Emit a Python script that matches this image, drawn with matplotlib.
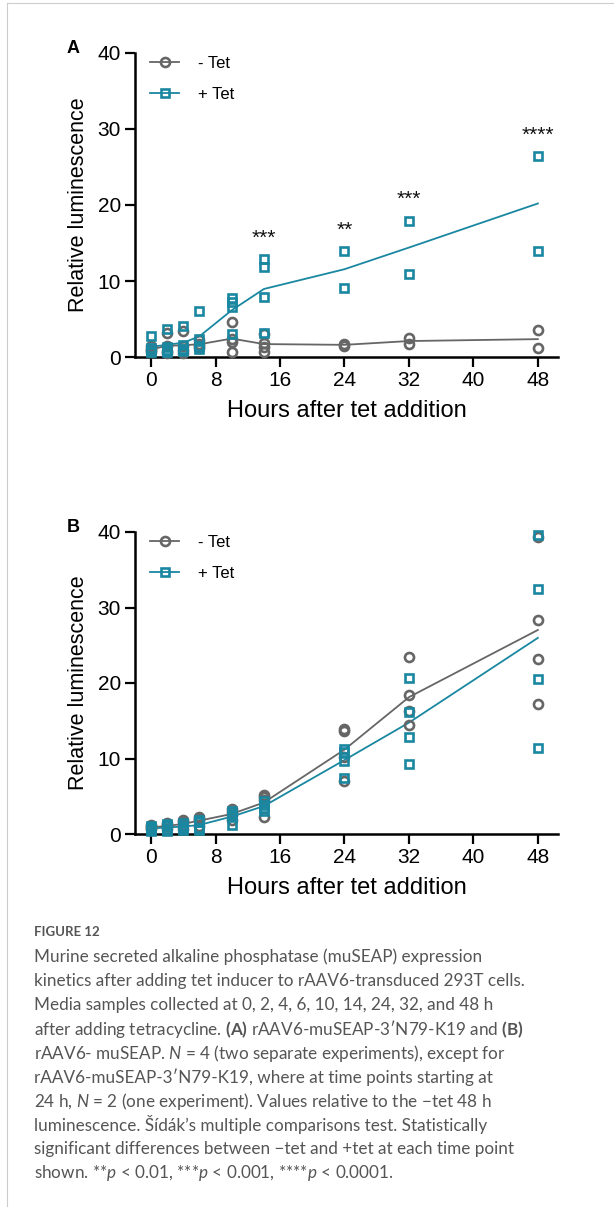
import numpy as np
import matplotlib
matplotlib.use("Agg")
import matplotlib.pyplot as plt
from matplotlib.lines import Line2D

# ---- data -------------------------------------------------------------------
hours = [0, 2, 4, 6, 10, 14, 24, 32, 48]

# Panel A: rAAV6-muSEAP-3'N79-K19
a_minus = [
    [1.4, 1.1, 0.9, 0.6],
    [3.2, 1.4, 0.8, 0.5],
    [3.4, 1.4, 0.9, 0.5],
    [2.3, 1.7, 1.5, 1.2],
    [4.6, 2.4, 2.0, 0.7],
    [3.0, 1.8, 1.3, 0.7],
    [1.7, 1.5],
    [2.5, 1.7],
    [3.5, 1.2],
]
a_plus = [
    [2.7, 1.2, 0.8, 0.6],
    [3.7, 1.3, 0.9, 0.6],
    [4.1, 1.6, 1.0, 0.8],
    [6.0, 2.4, 1.5, 1.0],
    [7.8, 7.2, 6.6, 3.0],
    [12.9, 11.8, 7.9, 3.2],
    [14.0, 9.1],
    [17.9, 10.9],
    [26.5, 13.9],
]
a_stars = {14: "***", 24: "**", 32: "***", 48: "****"}
a_star_y = {14: 15.6, 24: 16.7, 32: 20.7, 48: 29.2}

# Panel B: rAAV6-muSEAP
b_minus = [
    [1.2, 1.0, 0.8, 0.6],
    [1.4, 1.2, 1.0, 0.6],
    [1.9, 1.6, 1.2, 0.7],
    [2.3, 2.0, 1.8, 1.0],
    [3.3, 2.9, 2.5, 1.9],
    [5.1, 4.9, 4.5, 2.2],
    [13.9, 13.6, 10.2, 7.0],
    [23.4, 18.4, 16.3, 14.4],
    [39.4, 28.3, 23.2, 17.2],
]
b_plus = [
    [1.0, 0.9, 0.6, 0.4],
    [1.3, 1.1, 0.7, 0.4],
    [1.5, 1.1, 0.8, 0.5],
    [1.9, 1.6, 0.8, 0.5],
    [3.0, 2.6, 2.4, 1.2],
    [4.4, 3.9, 3.5, 3.0],
    [11.3, 10.8, 9.7, 7.4],
    [20.6, 16.2, 12.9, 9.3],
    [39.6, 32.4, 20.5, 11.4],
]

caption_lines = [
    "Murine secreted alkaline phosphatase (muSEAP) expression",
    "kinetics after adding tet inducer to rAAV6-transduced 293T cells.",
    "Media samples collected at 0, 2, 4, 6, 10, 14, 24, 32, and 48 h",
    r"after adding tetracycline. $\mathbf{(A)}$ rAAV6-muSEAP-3′N79-K19 and $\mathbf{(B)}$",
    r"rAAV6- muSEAP. $N$ = 4 (two separate experiments), except for",
    "rAAV6-muSEAP-3′N79-K19, where at time points starting at",
    r"24 h, $N$ = 2 (one experiment). Values relative to the −tet 48 h",
    "luminescence. Šídák’s multiple comparisons test. Statistically",
    "significant differences between −tet and +tet at each time point",
    r"shown. **$p$ < 0.01, ***$p$ < 0.001, ****$p$ < 0.0001.",
]

GREY = "#666666"
TEAL = "#1a87a1"
CAP_FONT = "Lato"

plt.rcParams.update({
    "font.family": ["Liberation Sans", "DejaVu Sans"],
    "mathtext.fontset": "custom",
    "mathtext.rm": CAP_FONT,
    "mathtext.it": CAP_FONT + ":italic",
    "mathtext.bf": CAP_FONT + ":bold",
})

fig = plt.figure(figsize=(6.14, 12.07), dpi=100)


def panel(rect, minus, plus, label, stars=None, star_y=None):
    ax = fig.add_axes(rect)
    for vals, col, mk in [(minus, GREY, "o"), (plus, TEAL, "s")]:
        means = [np.mean(v) for v in vals]
        ax.plot(hours, means, color=col, lw=1.3, zorder=2)
        for h, v in zip(hours, vals):
            ax.plot([h] * len(v), v, ls="none", marker=mk, ms=6.5 if mk == "o" else 6.3,
                    mfc="none", mec=col, mew=1.9, clip_on=False, zorder=3)
    if stars:
        for h, s in stars.items():
            ax.text(h, star_y[h], s, ha="center", va="center", fontsize=15,
                    color="#111111")
    ax.set_xlim(-2, 50.5)
    ax.set_ylim(0, 40)
    ax.set_xticks([0, 8, 16, 24, 32, 40, 48])
    ax.set_yticks([0, 10, 20, 30, 40])
    for s in ["top", "right"]:
        ax.spines[s].set_visible(False)
    for s in ["left", "bottom"]:
        ax.spines[s].set_linewidth(1.8)
    ax.tick_params(width=1.6, length=7, labelsize=15, pad=3)
    ax.set_xlabel("Hours after tet addition", fontsize=17, labelpad=7)
    ax.set_ylabel("Relative luminescence", fontsize=15.5, labelpad=6)
    handles = [
        Line2D([], [], color=GREY, lw=1.3, marker="o", ms=6.5, mfc="none", mew=1.9),
        Line2D([], [], color=TEAL, lw=1.3, marker="s", ms=6.3, mfc="none", mew=1.9),
    ]
    ax.legend(handles, ["- Tet", "+ Tet"], loc="upper left", frameon=False,
              fontsize=12, handlelength=1.75, handletextpad=1.1, labelspacing=0.95,
              bbox_to_anchor=(0.0, 1.04))
    fig.text(73 / 614, rect[1] + rect[3] + 0.004, label, fontsize=13,
             fontweight="bold", ha="center", va="center")
    return ax


panel([135 / 614, 1 - 357 / 1207, 423 / 614, 304 / 1207], a_minus, a_plus, "A",
      a_stars, a_star_y)
panel([135 / 614, 1 - 834 / 1207, 423 / 614, 302 / 1207], b_minus, b_plus, "B")

# caption
fig.text(34 / 614, 1 - 932 / 1207, "FIGURE 12", fontsize=9.5, color="#555555",
         family=CAP_FONT, fontweight="bold", va="center")
for i, line in enumerate(caption_lines):
    fig.text(34 / 614, 1 - (957 + 24 * i) / 1207, line, fontsize=12.3,
             color="#555555", family=CAP_FONT, va="center")

# frame lines at left / top edge
fig.add_artist(Line2D([7 / 614, 7 / 614], [0, 1 - 3 / 1207], color="#cccccc", lw=0.8))
fig.add_artist(Line2D([7 / 614, 1], [1 - 3 / 1207, 1 - 3 / 1207], color="#cccccc", lw=0.8))

fig.savefig("out.png", dpi=100)
